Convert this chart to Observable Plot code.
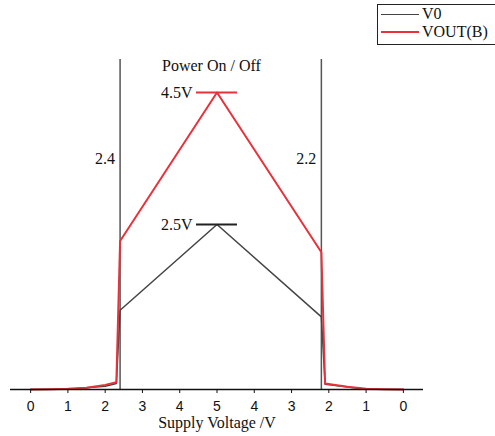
<!DOCTYPE html>
<html>
<head>
<meta charset="utf-8">
<script src="https://cdn.jsdelivr.net/npm/d3@7"></script>
<script src="https://cdn.jsdelivr.net/npm/@observablehq/plot@0.6"></script>
<style>
  html, body { margin: 0; padding: 0; background: #fff; }
  #wrap { position: relative; width: 495px; height: 436px; overflow: hidden; }
  #legend { position: absolute; left: 377px; top: 4px; width: 130px; height: 41px;
    border: 1px solid #222; box-sizing: border-box; background: #fff;
    font-family: "Liberation Serif", "Times New Roman", serif; font-size: 16px; color: #111; }
  .li { position: absolute; left: 0; display: flex; align-items: center; }
  .li span.sw { display: inline-block; width: 38px; height: 0; margin-left: 3px; margin-right: 3px; }
</style>
</head>
<body>
<div id="wrap"><div id="chart"></div><div id="legend"></div></div>
<script>
// Position along the sweep (0..10), with voltage tick labels going up then down
const tickPos = [0, 1, 2, 3, 4, 5, 6, 7, 8, 9, 10];
const tickLabels = ["0", "1", "2", "3", "4", "5", "4", "3", "2", "1", "0"];

// V0 series
const v0Pos = [0, 1, 2, 2.3, 2.4, 5, 7.8, 7.9, 9, 10];
const v0Val = [0, 0.005, 0.05, 0.09, 1.2, 2.5, 1.1, 0.08, 0.005, 0];

// VOUT(B) series
const voutPos = [0, 0.5, 1, 1.5, 2, 2.3, 2.4, 5, 7.8, 7.9, 8.5, 9, 9.5, 10];
const voutVal = [0, 0.003, 0.01, 0.025, 0.07, 0.11, 2.25, 4.5, 2.08, 0.09, 0.04, 0.01, 0.003, 0];

// Threshold markers
const thrPos = [2.4, 7.8];
const thrLabels = ["2.4", "2.2"];
const thrTop = 5.0;

// Peak annotations
const peakPos = 5;
const peakVals = [4.5, 2.5];
const peakLabels = ["4.5V", "2.5V"];
const peakColors = ["#e8313a", "#222222"];

const seriesNames = ["V0", "VOUT(B)"];
const seriesColors = ["#444444", "#e8313a"];

const v0 = v0Pos.map((p, i) => ({p, v: v0Val[i]}));
const vout = voutPos.map((p, i) => ({p, v: voutVal[i]}));
const thr = thrPos.map((p, i) => ({p, label: thrLabels[i]}));
const peaks = peakVals.map((v, i) => ({v, label: peakLabels[i], color: peakColors[i]}));

const serif = '"Liberation Serif", "Times New Roman", serif';

const chart = Plot.plot({
  width: 495,
  height: 436,
  marginLeft: 10,
  marginRight: 72,
  marginTop: 26,
  marginBottom: 47,
  x: {domain: [-0.54, 10.54]},
  y: {domain: [0, 5.5], axis: null},
  style: {fontFamily: '"Liberation Sans", Arial, sans-serif', fontSize: "14px", color: "#111"},
  marks: [
    Plot.ruleX(thr, {x: "p", y1: 0, y2: thrTop, stroke: "#555", strokeWidth: 1.5}),
    Plot.text(thr, {x: "p", y: 3.5, text: "label", textAnchor: "end", dx: -5, fontFamily: serif, fontSize: 16}),
    Plot.line(v0, {x: "p", y: "v", stroke: seriesColors[0], strokeWidth: 1.5}),
    Plot.line(vout, {x: "p", y: "v", stroke: seriesColors[1], strokeWidth: 2}),
    Plot.ruleY(peaks, {y: "v", x1: peakPos - 0.55, x2: peakPos + 0.55, stroke: "color", strokeWidth: 2}),
    Plot.text(peaks, {x: peakPos - 0.55, y: "v", text: "label", textAnchor: "end", dx: -4, fontFamily: serif, fontSize: 16}),
    Plot.text(["Power On / Off"], {x: peakPos - 0.15, y: 4.9, fontFamily: serif, fontSize: 16}),
    Plot.ruleY([0], {stroke: "#111", strokeWidth: 1.5}),
    Plot.axisX({ticks: tickPos, tickFormat: (d, i) => tickLabels[i], tickSize: 4, tickPadding: 8, label: null}),
    Plot.text(["Supply Voltage /V"], {frameAnchor: "bottom", dy: 38, fontFamily: serif, fontSize: 16})
  ]
});
document.getElementById("chart").appendChild(chart);

const leg = document.getElementById("legend");
seriesNames.forEach((n, i) => {
  const d = document.createElement("div");
  d.className = "li";
  d.style.top = (i * 18) + "px";
  d.innerHTML = `<span class="sw" style="border-top:${i ? 2 : 1.5}px solid ${seriesColors[i]}"></span><span>${n}</span>`;
  leg.appendChild(d);
});
</script>
</body>
</html>
